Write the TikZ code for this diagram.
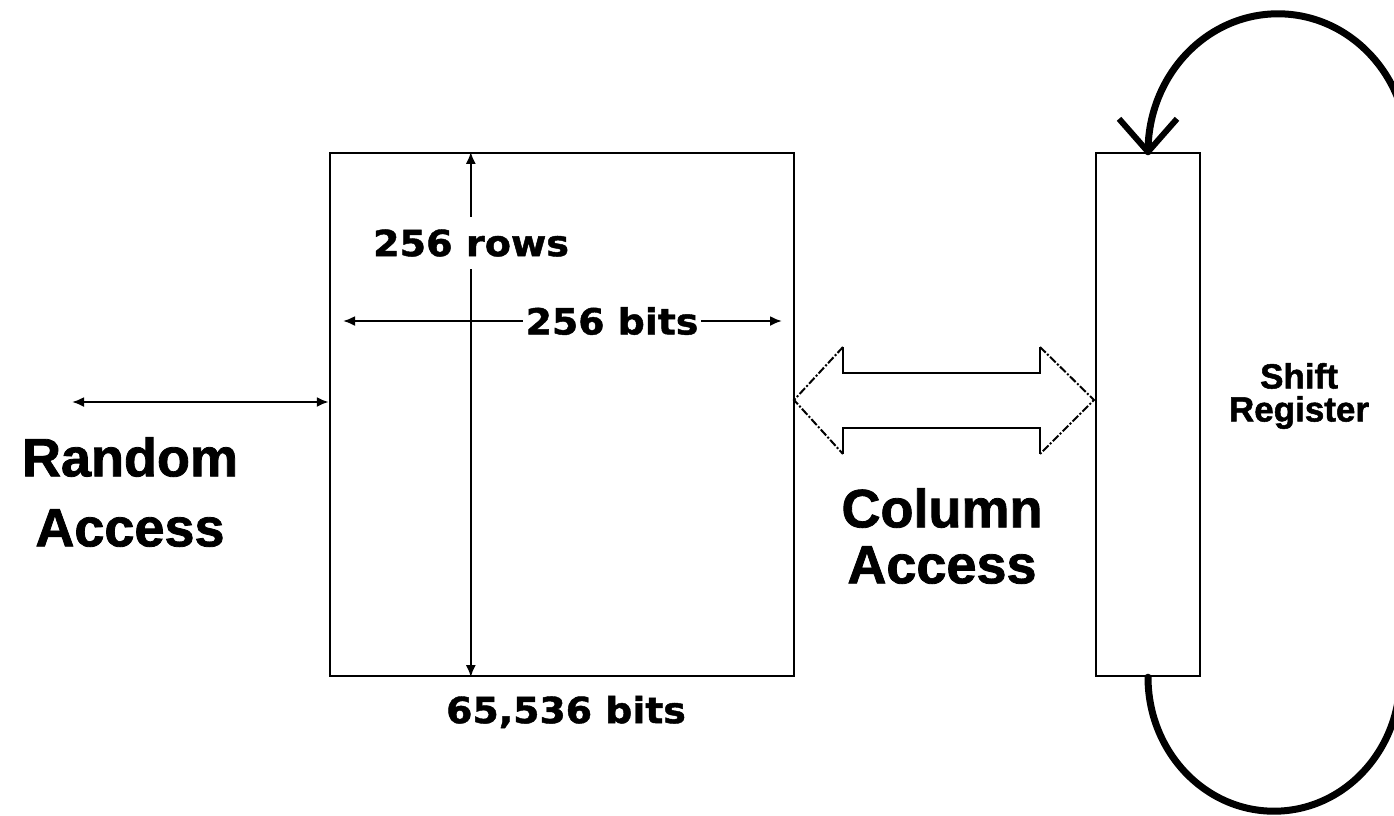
\documentclass[tikz,border=0pt]{standalone}
\usepackage{fontspec}
\setmainfont{Liberation Sans}[BoldFeatures={FakeBold=1.5}]
\newfontfamily\djv{DejaVu Sans}[BoldFeatures={FakeBold=1.2}]
\usepackage{graphicx}
\usetikzlibrary{arrows.meta,calc}
\begin{document}
\begin{tikzpicture}[x=1pt,y=-1pt,
  box/.style={draw, line width=2.4pt, inner sep=0pt},
  dim/.style={line width=2.2pt, >={Latex[length=12pt,width=10pt]}, <->},
  loopline/.style={line width=7pt, line cap=round, line join=round},
  biglabel/.style={font=\fontsize{54}{70}\selectfont\bfseries, align=center, inner sep=0pt},
  midlabel/.style={font=\fontsize{35}{33}\selectfont\bfseries, align=center, inner sep=0pt},
  dimlabel/.style={font=\djv\fontsize{36}{40}\selectfont\bfseries, fill=white},
  fatarrow/.style={line width=2pt},
  fatdash/.style={line width=2pt, dash pattern=on 8pt off 2pt on 2pt off 2pt}
  ]
\useasboundingbox (0,0) rectangle (1394,815);
\clip (0,0) rectangle (1394,815);

% memory array and shift register
\node[box, minimum width=464pt, minimum height=523pt] (mem) at (562,414.5) {};
\node[box, minimum width=104pt, minimum height=523pt] (reg) at (1148,414.5) {};

% 256 rows (vertical dimension)
\coordinate (rowT) at ($(mem.north west)+(142,0)$);
\coordinate (rowB) at ($(mem.south west)+(142,0)$);
\draw[dim] (rowT) -- (rowB);
\node[dimlabel, inner xsep=4pt, inner ysep=12pt] (rows) at (471,243) {\scalebox{1.06}[1]{256 rows}};

% 256 bits (horizontal dimension)
\coordinate (bitsL) at (343,321);
\coordinate (bitsR) at (782,321);
\draw[dim] (bitsL) -- (bitsR);
\node[dimlabel, inner xsep=3pt, inner ysep=4pt] (bits) at (612,321) {\scalebox{1.05}[1]{256 bits}};

% 65,536 bits
\node[dimlabel, fill=none] (total) at (566,712) {\scalebox{1.05}[1]{65,536 bits}};

% random access
\coordinate (raL) at (72,402);
\draw[dim] (raL) -- (raL -| mem.west);
\node[biglabel] (ra) at (130,492) {Random\\Access};

% column access fat double arrow
\coordinate (tipL) at (794,400);
\coordinate (tipR) at (1094,400);
\coordinate (hLt) at (843,347);
\coordinate (hLb) at (843,454);
\coordinate (hRt) at (1040,347);
\coordinate (hRb) at (1040,454);
\draw[fatarrow] (hLt) -- (843,373) -- (1040,373) -- (hRt);
\draw[fatarrow] (hLb) -- (843,428) -- (1040,428) -- (hRb);
\draw[fatdash] (hLt) -- (tipL) -- (hLb);
\draw[fatdash] (hRt) -- (tipR) -- (hRb);
\node[biglabel, font=\fontsize{54}{56}\selectfont\bfseries] (ca) at (942,536) {Column\\Access};

% shift register label
\node[midlabel] (sr) at (1299,396) {Shift\\Register};

% recirculating loop
\draw[loopline] (reg.north) arc[start angle=180, end angle=360, x radius=130, y radius=138];
\draw[loopline, line width=6pt, line cap=butt] ($(reg.north)+(-29,-33)$) -- (reg.north) -- ($(reg.north)+(29,-33)$);
\draw[loopline] (reg.south) arc[start angle=180, end angle=0, x radius=126, y radius=134];
\end{tikzpicture}
\end{document}
